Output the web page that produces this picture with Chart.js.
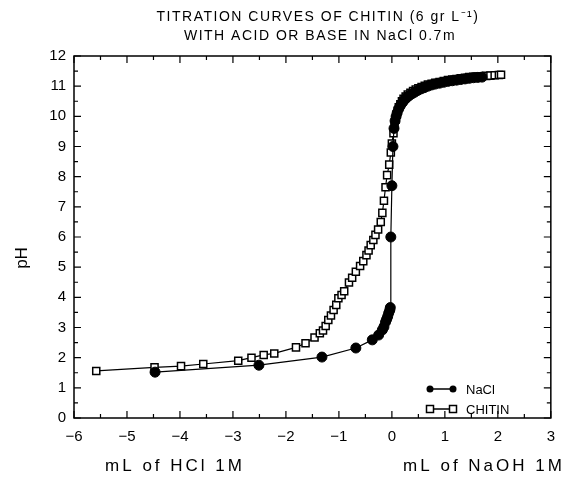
<!DOCTYPE html>
<html>
<head>
<meta charset="utf-8">
<script src="https://cdn.jsdelivr.net/npm/chart.js@4/dist/chart.umd.min.js"></script>
<style>
  html, body { margin: 0; padding: 0; background: #fff; }
  #wrap { width: 565px; height: 478px; }
</style>
</head>
<body>
<div id="wrap"><canvas id="chart" width="565" height="478"></canvas></div>
<script>
// Values (mL of titrant, pH)
const naclVolume = [
  -4.47, -2.51, -1.32, -0.68, -0.37, -0.25, -0.18, -0.15, -0.12, -0.1,
  -0.08, -0.06, -0.04, -0.03, -0.02, 0.0, 0.02, 0.04, 0.06, 0.08,
  0.1, 0.13, 0.16, 0.2, 0.24, 0.28, 0.33, 0.38, 0.43, 0.49,
  0.55, 0.61, 0.68, 0.75, 0.82, 0.9, 0.98, 1.06, 1.14, 1.22,
  1.3, 1.38, 1.46, 1.54, 1.62, 1.7
];
const naclPH = [
  1.52, 1.75, 2.02, 2.32, 2.59, 2.75, 2.92, 3.02, 3.18, 3.27,
  3.36, 3.48, 3.57, 3.66, 6.0, 7.7, 9.0, 9.6, 9.85, 10.0,
  10.12, 10.25, 10.36, 10.46, 10.55, 10.62, 10.69, 10.75, 10.8, 10.86,
  10.91, 10.95, 11.0, 11.04, 11.07, 11.1, 11.13, 11.16, 11.18, 11.2,
  11.22, 11.24, 11.26, 11.28, 11.29, 11.3
];

const chitinVolume = [
  -5.58, -4.48, -3.98, -3.56, -2.9, -2.65, -2.42, -2.22, -1.81, -1.63,
  -1.46, -1.36, -1.3, -1.25, -1.2, -1.15, -1.1, -1.05, -1.01, -0.95,
  -0.9, -0.81, -0.75, -0.68, -0.6, -0.54, -0.48, -0.44, -0.4, -0.35,
  -0.31, -0.26, -0.21, -0.18, -0.15, -0.12, -0.09, -0.05, -0.02, 0.0,
  0.03, 0.05, 0.07, 0.09, 0.11, 0.13, 0.16, 0.19, 0.22, 0.26,
  0.3, 0.35, 0.4, 0.45, 0.5, 0.56, 0.62, 0.68, 0.75, 0.82,
  0.9, 0.98, 1.06, 1.14, 1.22, 1.3, 1.38, 1.46, 1.54, 1.62,
  1.7, 1.78, 1.86, 1.94, 2.02, 2.06
];
const chitinPH = [
  1.56, 1.68, 1.72, 1.79, 1.9, 2.0, 2.09, 2.14, 2.34, 2.48,
  2.67, 2.81, 2.9, 3.05, 3.25, 3.4, 3.58, 3.75, 3.97, 4.08,
  4.2, 4.49, 4.65, 4.85, 5.04, 5.2, 5.4, 5.55, 5.73, 5.9,
  6.07, 6.25, 6.5, 6.8, 7.2, 7.65, 8.05, 8.4, 8.8, 9.1,
  9.44, 9.7, 9.9, 10.05, 10.18, 10.3, 10.4, 10.5, 10.58, 10.66,
  10.72, 10.78, 10.84, 10.89, 10.93, 10.97, 11.01, 11.05, 11.08, 11.11,
  11.14, 11.17, 11.2, 11.22, 11.24, 11.26, 11.28, 11.3, 11.31, 11.32,
  11.33, 11.34, 11.35, 11.36, 11.37, 11.38
];

const xTicks = [-6, -5, -4, -3, -2, -1, 0, 1, 2, 3];
const yTicks = [0, 1, 2, 3, 4, 5, 6, 7, 8, 9, 10, 11, 12];

const titleLines = ['TITRATION CURVES OF CHITIN (6 gr L\u207B\u00B9)', 'WITH ACID OR BASE IN NaCl 0.7m'];
const legendLabels = ['NaCl', 'CHITIN'];

function toPoints(xs, ys) {
  return xs.map((x, i) => ({ x: x, y: ys[i] }));
}

function minus(v) {
  return v < 0 ? '\u2212' + Math.abs(v) : String(v);
}

// Box, inward ticks, titles and legend
const decorPlugin = {
  id: 'decor',
  afterDraw(chart) {
    const ctx = chart.ctx;
    const a = chart.chartArea;
    const xs = chart.scales.x;
    const ys = chart.scales.y;
    ctx.save();
    ctx.strokeStyle = '#000';
    ctx.lineWidth = 1.5;
    ctx.strokeRect(a.left, a.top, a.right - a.left, a.bottom - a.top);

    ctx.lineWidth = 1.2;
    ctx.beginPath();
    for (let v = -6; v <= 3.001; v += 0.5) {
      const px = xs.getPixelForValue(v);
      const len = Number.isInteger(v) ? 7 : 4;
      ctx.moveTo(px, a.bottom); ctx.lineTo(px, a.bottom - len);
      ctx.moveTo(px, a.top); ctx.lineTo(px, a.top + len);
    }
    for (let v = 0; v <= 12.001; v += 0.5) {
      const py = ys.getPixelForValue(v);
      const len = Number.isInteger(v) ? 7 : 4;
      ctx.moveTo(a.left, py); ctx.lineTo(a.left + len, py);
      ctx.moveTo(a.right, py); ctx.lineTo(a.right - len, py);
    }
    ctx.stroke();

    ctx.fillStyle = '#000';
    ctx.textAlign = 'center';
    ctx.textBaseline = 'middle';
    ctx.letterSpacing = '1.5px';
    ctx.font = '14px "Liberation Sans", Arial, sans-serif';
    ctx.fillText(titleLines[0], 318, 17);
    ctx.fillText(titleLines[1], 320, 36);

    ctx.letterSpacing = '3px';
    ctx.font = '17px "Liberation Sans", Arial, sans-serif';
    ctx.fillText('mL of HCl 1M', 175, 466);
    ctx.fillText('mL of NaOH 1M', 484, 466);
    ctx.letterSpacing = '0px';

    ctx.save();
    ctx.translate(22, 258);
    ctx.rotate(-Math.PI / 2);
    ctx.fillText('pH', 0, 0);
    ctx.restore();

    // legend
    const rows = [389, 409];
    ctx.lineWidth = 1.5;
    rows.forEach((ry, i) => {
      ctx.beginPath();
      ctx.moveTo(430, ry); ctx.lineTo(453, ry);
      ctx.stroke();
      [430, 453].forEach((mx) => {
        if (i === 0) {
          ctx.beginPath();
          ctx.arc(mx, ry, 3.5, 0, Math.PI * 2);
          ctx.fill();
        } else {
          ctx.fillStyle = '#fff';
          ctx.fillRect(mx - 3.5, ry - 3.5, 7, 7);
          ctx.strokeRect(mx - 3.5, ry - 3.5, 7, 7);
          ctx.fillStyle = '#000';
        }
      });
      ctx.textAlign = 'left';
      ctx.font = '13px "Liberation Sans", Arial, sans-serif';
      ctx.fillText(legendLabels[i], 466, ry + 1);
    });
    ctx.restore();
  }
};

const ctx = document.getElementById('chart').getContext('2d');
new Chart(ctx, {
  type: 'scatter',
  data: {
    datasets: [
      {
        label: legendLabels[0],
        data: toPoints(naclVolume, naclPH),
        showLine: true,
        borderColor: '#000',
        borderWidth: 1.2,
        backgroundColor: '#000',
        pointStyle: 'circle',
        pointRadius: 5,
        pointBorderWidth: 1,
        pointBackgroundColor: '#000'
      },
      {
        label: legendLabels[1],
        data: toPoints(chitinVolume, chitinPH),
        showLine: true,
        borderColor: '#000',
        borderWidth: 1.2,
        backgroundColor: '#fff',
        pointStyle: 'rect',
        pointRadius: 5,
        pointBorderWidth: 1.5,
        pointBackgroundColor: '#fff'
      }
    ]
  },
  options: {
    responsive: false,
    animation: false,
    layout: { padding: { top: 56, right: 2, left: 0, bottom: 0 } },
    plugins: {
      legend: { display: false },
      tooltip: { enabled: false }
    },
    scales: {
      x: {
        type: 'linear',
        min: -6,
        max: 3,
        afterBuildTicks(scale) { scale.ticks = xTicks.map((v) => ({ value: v })); },
        afterFit(scale) { scale.height = 60; },
        grid: { display: false, drawTicks: false },
        border: { display: false },
        ticks: {
          color: '#000',
          padding: 10,
          font: { size: 15, family: '"Liberation Sans", Arial, sans-serif' },
          callback: (v) => minus(v)
        }
      },
      y: {
        type: 'linear',
        min: 0,
        max: 12,
        afterBuildTicks(scale) { scale.ticks = yTicks.map((v) => ({ value: v })); },
        afterFit(scale) { scale.width = 74; },
        grid: { display: false, drawTicks: false },
        border: { display: false },
        ticks: {
          color: '#000',
          padding: 8,
          font: { size: 15, family: '"Liberation Sans", Arial, sans-serif' },
          callback: (v) => String(v)
        }
      }
    }
  },
  plugins: [decorPlugin]
});
</script>
</body>
</html>
